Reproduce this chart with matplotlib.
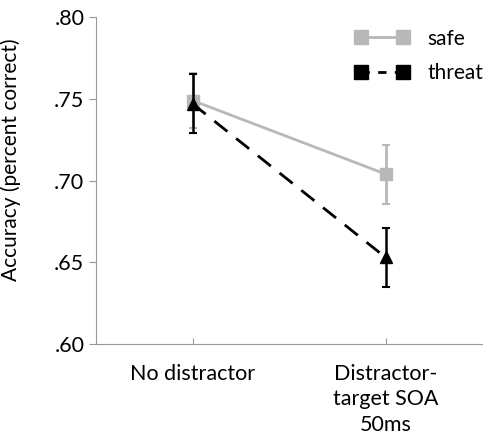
import matplotlib.pyplot as plt
from matplotlib.lines import Line2D

plt.rcParams["font.family"] = ["Lato", "DejaVu Sans"]

conditions = ["No distractor", "Distractor-\ntarget SOA\n50ms"]
safe_acc = [0.749, 0.704]
safe_err = [0.017, 0.018]
threat_acc = [0.747, 0.653]
threat_err = [0.018, 0.018]

safe_color = "#b8b8b8"
threat_color = "black"
axis_color = "#999999"


def main():
    fig = plt.figure(figsize=(4.88, 4.40), dpi=100)
    ax = fig.add_axes([0.197, 0.218, 0.791, 0.743])

    x = list(range(len(conditions)))

    ax.errorbar(x, safe_acc, yerr=safe_err, color=safe_color, marker="s",
                markersize=8, linewidth=2, elinewidth=2, capsize=3,
                capthick=1.5, zorder=2)
    ax.errorbar(x, threat_acc, yerr=threat_err, color=threat_color,
                marker="^", markersize=8.5, linewidth=2,
                linestyle=(0, (6, 4)), elinewidth=1.8, capsize=3,
                capthick=1.5, zorder=3)

    ax.set_xlim(-0.5, 1.5)
    ax.set_ylim(0.60, 0.80)
    ax.set_yticks([0.60, 0.65, 0.70, 0.75, 0.80])
    ax.set_yticklabels([".60", ".65", ".70", ".75", ".80"])
    ax.set_xticks(x)
    ax.set_xticklabels(conditions, fontsize=15.5, linespacing=1.35)
    ax.set_ylabel("Accuracy (percent correct)", fontsize=15)
    ax.yaxis.set_label_coords(-0.195, 0.565)

    for side in ["top", "right"]:
        ax.spines[side].set_visible(False)
    for side in ["left", "bottom"]:
        ax.spines[side].set_color(axis_color)
    ax.tick_params(axis="y", direction="out", length=5, color=axis_color,
                   labelsize=15.5)
    ax.tick_params(axis="x", direction="in", length=4, color=axis_color,
                   pad=14)

    handles = [
        Line2D([0], [0], color=safe_color, marker="s", markersize=10,
               linewidth=2),
        Line2D([0], [0], color=threat_color, marker="s", markersize=10,
               linewidth=2, linestyle=(0, (3, 3))),
    ]
    ax.legend(handles, ["safe", "threat"], loc="upper right",
              bbox_to_anchor=(1.025, 0.99), numpoints=2, frameon=False,
              fontsize=15, handlelength=2.6, handletextpad=0.9,
              borderaxespad=0.0, labelspacing=0.7)

    fig.savefig("out.png", dpi=100)
    plt.close(fig)


if __name__ == "__main__":
    main()
